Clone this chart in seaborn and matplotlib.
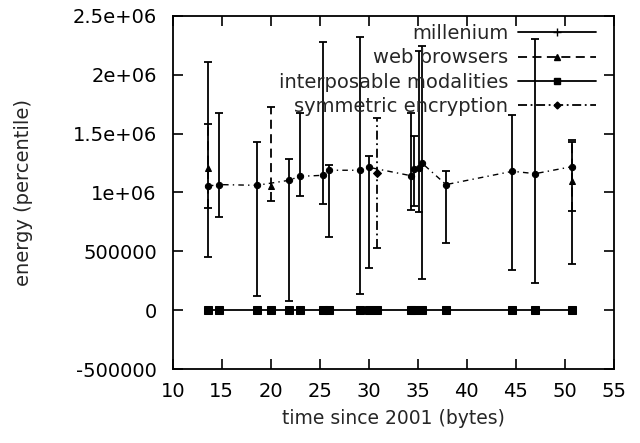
import numpy as np
import matplotlib
matplotlib.use("Agg")
import matplotlib.pyplot as plt
from matplotlib.lines import Line2D
import seaborn as sns

# values
mil_x = [13.58, 14.70, 18.59, 21.83, 22.96, 25.34, 25.95, 29.09, 30.01,
         34.27, 34.64, 35.10, 35.40, 37.88, 44.66, 46.98, 50.77]
mil_y = [1.054e6, 1.067e6, 1.061e6, 1.103e6, 1.137e6, 1.146e6, 1.189e6, 1.189e6, 1.214e6,
         1.143e6, 1.200e6, 1.210e6, 1.252e6, 1.067e6, 1.180e6, 1.160e6, 1.220e6]
mil_lo = [0.450e6, 0.791e6, 0.122e6, 0.079e6, 0.967e6, 0.902e6, 0.620e6, 0.137e6, 0.356e6,
          0.853e6, 0.881e6, 0.838e6, 0.265e6, 0.574e6, 0.341e6, 0.230e6, 0.390e6]
mil_hi = [2.110e6, 1.672e6, 1.427e6, 1.286e6, 1.678e6, 2.276e6, 1.237e6, 2.318e6, 1.308e6,
          1.678e6, 1.479e6, 2.200e6, 2.247e6, 1.180e6, 1.655e6, 2.300e6, 1.430e6]

web_x = [13.58, 19.99, 50.77]
web_y = [1.209e6, 1.052e6, 1.100e6]
web_lo = [0.868e6, 0.930e6, 0.840e6]
web_hi = [1.578e6, 1.729e6, 1.450e6]

int_x = [13.58, 14.70, 18.59, 19.99, 21.83, 22.96, 25.34, 25.95, 29.09, 30.01,
         30.80, 34.27, 34.64, 35.40, 37.88, 44.66, 46.98, 50.77]
int_y = [0] * len(int_x)

sym_x = [30.80]
sym_y = [1.166e6]
sym_lo = [0.526e6]
sym_hi = [1.636e6]

labels = ["millenium", "web browsers", "interposable modalities", "symmetric encryption"]
x_ticks = [10, 15, 20, 25, 30, 35, 40, 45, 50, 55]
y_ticks = [-500000, 0, 500000, 1000000, 1500000, 2000000, 2500000]
y_tick_labels = ["-500000", "0", "500000", "1e+06", "1.5e+06", "2e+06", "2.5e+06"]

sns.set_style("ticks", {"xtick.direction": "in", "ytick.direction": "in"})
plt.rcParams['font.family'] = ['DejaVu Sans']
fs = 14

fig = plt.figure(figsize=(6.4, 4.43), dpi=100)
ax = fig.add_axes([0.270, 0.167, 0.689, 0.797])


def bars(x, y, lo, hi, ls):
    y = np.array(y)
    err = [y - np.array(lo), np.array(hi) - y]
    _, _, cols = ax.errorbar(x, y, yerr=err, fmt='none', ecolor='k',
                             elinewidth=1.3, capsize=3.2, capthick=1.3)
    cols[0].set_linestyle(ls)


bars(mil_x, mil_y, mil_lo, mil_hi, '-')
bars(web_x, web_y, web_lo, web_hi, (0, (5, 3)))
bars(sym_x, sym_y, sym_lo, sym_hi, (0, (5, 2, 1, 2)))

sns.lineplot(x=mil_x, y=mil_y, ax=ax, color='k', lw=1, linestyle=(0, (4, 3, 1, 3)),
             marker='o', ms=4.5, mec='k', mfc='k')
sns.lineplot(x=web_x, y=web_y, ax=ax, color='k', lw=0, marker='^', ms=5, mec='k', mfc='k')
sns.lineplot(x=sym_x, y=sym_y, ax=ax, color='k', lw=0, marker='D', ms=4, mec='k', mfc='k')
sns.lineplot(x=int_x, y=int_y, ax=ax, color='k', lw=1.3, marker='s', ms=5.5, mec='k', mfc='k')

ax.set_xlim(10, 55)
ax.set_ylim(-500000, 2500000)
ax.set_xticks(x_ticks)
ax.set_xticklabels([str(t) for t in x_ticks])
ax.set_yticks(y_ticks)
ax.set_yticklabels(y_tick_labels)
ax.tick_params(direction='in', length=7, width=1.2, top=True, right=True,
               labelsize=fs, colors='k')
ax.tick_params(axis='x', pad=9.5)
ax.tick_params(axis='y', pad=11.5)
for s in ax.spines.values():
    s.set_linewidth(1.3)
    s.set_color('k')

ax.set_xlabel("time since 2001 (bytes)", fontsize=13.5)
ax.set_ylabel("energy (percentile)", fontsize=14)
ax.xaxis.set_label_coords(0.5, -0.112)
ax.yaxis.set_label_coords(-0.318, 0.5)

handles = [
    Line2D([], [], color='k', lw=1.3, marker='+', ms=6),
    Line2D([], [], color='k', lw=1.3, ls=(0, (5, 3)), marker='^', ms=4),
    Line2D([], [], color='k', lw=1.3, marker='s', ms=5),
    Line2D([], [], color='k', lw=1.3, ls=(0, (5, 2, 1, 2)), marker='D', ms=3.5),
]
leg = ax.legend(handles, labels, loc='upper right', bbox_to_anchor=(0.959, 0.977),
                frameon=False, markerfirst=False, fontsize=fs, handlelength=4.0,
                handletextpad=0.5, labelspacing=0.27, borderaxespad=0, borderpad=0)

fig.savefig("out.png", dpi=100)
